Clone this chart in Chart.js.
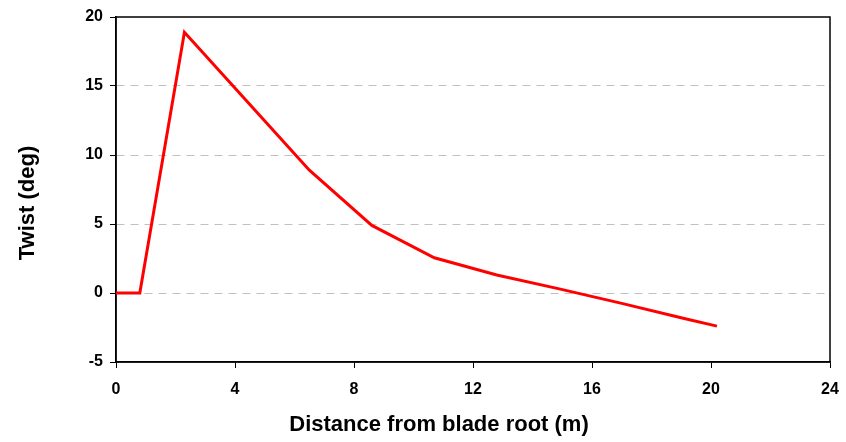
<!DOCTYPE html>
<html>
<head>
<meta charset="utf-8">
<script src="https://cdn.jsdelivr.net/npm/chart.js@4/dist/chart.umd.min.js"></script>
<style>
  html, body { margin: 0; padding: 0; background: #fff; }
  #wrap { width: 846px; height: 442px; }
</style>
</head>
<body>
<div id="wrap"><canvas id="twistChart"></canvas></div>
<script>
// Twist distribution along the blade
const distance = [0, 0.8, 2.3, 4.4, 6.5, 8.6, 10.7, 12.8, 14.9, 17.0, 19.1, 20.2];
const twist = [0, 0, 18.9, 13.9, 8.9, 4.9, 2.55, 1.3, 0.3, -0.75, -1.85, -2.4];
const xTicks = [0, 4, 8, 12, 16, 20, 24];
const yTicks = [-5, 0, 5, 10, 15, 20];
const xTitle = 'Distance from blade root (m)';
const yTitle = 'Twist (deg)';

const points = distance.map((d, i) => ({ x: d, y: twist[i] }));

const font = { family: "'Liberation Sans', Arial, sans-serif", weight: 'bold' };

// black box around the plot area
const frame = {
    id: 'frame',
    beforeDatasetsDraw(chart) {
        const a = chart.chartArea;
        const ctx = chart.ctx;
        ctx.save();
        ctx.strokeStyle = '#000';
        ctx.lineWidth = 1.5;
        ctx.strokeRect(a.left, a.top, a.right - a.left, a.bottom - a.top);
        ctx.restore();
    }
};

// axis titles sit a bit off the plot centre in the original, so place them by hand
const axisTitles = {
    id: 'axisTitles',
    afterDraw(chart) {
        const ctx = chart.ctx;
        ctx.save();
        ctx.fillStyle = '#000';
        ctx.font = "bold 22px 'Liberation Sans', Arial, sans-serif";
        ctx.textAlign = 'center';
        ctx.textBaseline = 'middle';
        ctx.fillText(xTitle, 439, 425);
        ctx.translate(28, 203);
        ctx.rotate(-Math.PI / 2);
        ctx.fillText(yTitle, 0, 0);
        ctx.restore();
    }
};

new Chart(document.getElementById('twistChart').getContext('2d'), {
    type: 'line',
    data: {
        datasets: [{
            label: 'Twist',
            data: points,
            borderColor: '#ff0000',
            borderWidth: 3,
            pointRadius: 0,
            fill: false,
            tension: 0
        }]
    },
    options: {
        responsive: true,
        maintainAspectRatio: false,
        animation: false,
        layout: { padding: { top: 17, right: 16, left: 0, bottom: 0 } },
        plugins: {
            legend: { display: false },
            tooltip: { enabled: false }
        },
        scales: {
            x: {
                type: 'linear',
                min: xTicks[0],
                max: xTicks[xTicks.length - 1],
                afterBuildTicks: axis => { axis.ticks = xTicks.map(v => ({ value: v })); },
                afterFit: axis => {
                    axis.height = 80;
                    axis.paddingLeft = 0;
                    axis.paddingRight = 0;
                },
                grid: { drawOnChartArea: false, color: '#000', tickLength: 6 },
                border: { color: '#000', width: 1.5 },
                ticks: { color: '#000', font: { ...font, size: 16 }, padding: 12 }
            },
            y: {
                min: yTicks[0],
                max: yTicks[yTicks.length - 1],
                afterBuildTicks: axis => { axis.ticks = yTicks.map(v => ({ value: v })); },
                afterFit: axis => { axis.width = 116; },
                grid: {
                    color: ctx => (ctx.tick && (ctx.tick.value === -5 || ctx.tick.value === 20)) ? 'rgba(0,0,0,0)' : '#c0c0c0',
                    tickColor: '#000',
                    tickLength: 6,
                    lineWidth: 1
                },
                border: { color: '#000', width: 1.5, dash: [8, 6] },
                ticks: { color: '#000', font: { ...font, size: 16 }, padding: 7 }
            }
        }
    },
    plugins: [frame, axisTitles]
});
</script>
</body>
</html>
